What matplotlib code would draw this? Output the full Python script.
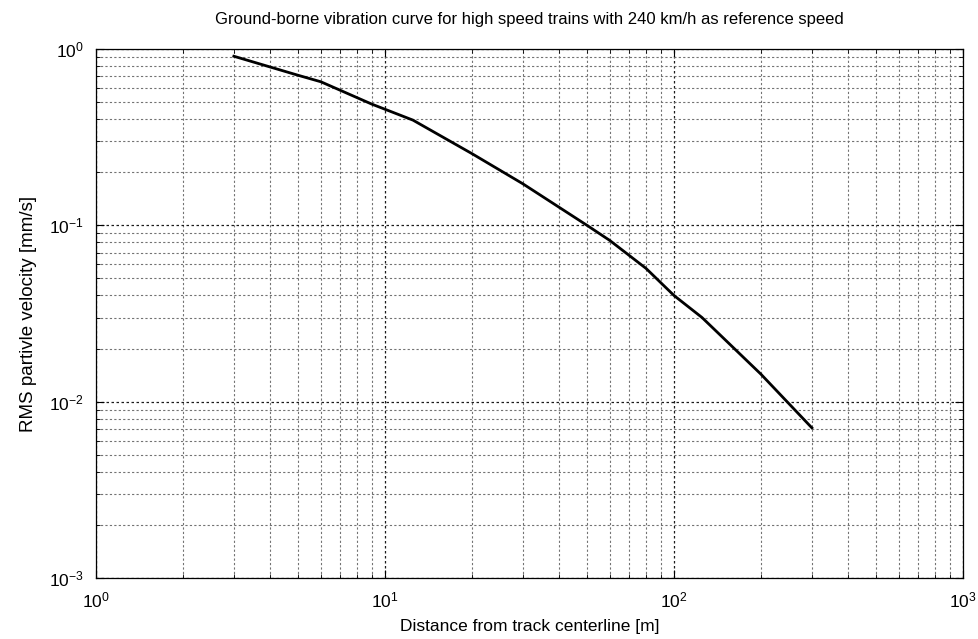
import matplotlib
matplotlib.use('Agg')
import matplotlib.pyplot as plt
from matplotlib.ticker import LogLocator, NullFormatter

plt.rcParams['font.family'] = ['Liberation Sans', 'DejaVu Sans']
plt.rcParams['mathtext.fontset'] = 'custom'
plt.rcParams['mathtext.rm'] = 'Liberation Sans'
plt.rcParams['mathtext.it'] = 'Liberation Sans'

# distance from track centerline [m] and RMS particle velocity [mm/s]
distance = [3, 5, 6, 9, 12.5, 20, 30, 50, 60, 80, 100, 125, 200, 300]
velocity = [0.91, 0.71, 0.652, 0.487, 0.395, 0.255, 0.172, 0.100,
            0.082, 0.057, 0.040, 0.030, 0.0143, 0.0071]

title = 'Ground-borne vibration curve for high speed trains with 240 km/h as reference speed'
xlabel = 'Distance from track centerline [m]'
ylabel = 'RMS partivle velocity [mm/s]'

fig = plt.figure(figsize=(9.79, 6.39), dpi=100)
ax = fig.add_axes([0.098, 0.0955, 0.8857, 0.8278])

ax.loglog(distance, velocity, color='black', linewidth=2)

ax.set_xlim(1, 1000)
ax.set_ylim(1e-3, 1)
ax.xaxis.set_major_locator(LogLocator(base=10, numticks=10))
ax.yaxis.set_major_locator(LogLocator(base=10, numticks=10))
ax.xaxis.set_minor_locator(LogLocator(base=10, subs=range(2, 10), numticks=20))
ax.yaxis.set_minor_locator(LogLocator(base=10, subs=range(2, 10), numticks=20))
ax.xaxis.set_minor_formatter(NullFormatter())
ax.yaxis.set_minor_formatter(NullFormatter())

ax.grid(which='major', linestyle=(0, (2, 2)), color='0.1', linewidth=0.9)
ax.grid(which='minor', linestyle=(0, (2, 2)), color='0.45', linewidth=0.8)

ax.tick_params(which='both', direction='in', top=True, right=True)
ax.tick_params(which='major', length=6, labelsize=12.5, pad=9)
ax.tick_params(which='minor', length=3)
for s in ax.spines.values():
    s.set_linewidth(0.9)

ax.set_title(title, fontsize=12, pad=18)
ax.set_xlabel(xlabel, fontsize=12.5, labelpad=6)
ax.set_ylabel(ylabel, fontsize=13.5, labelpad=8)

plt.savefig('out.png', dpi=100)
plt.close()
